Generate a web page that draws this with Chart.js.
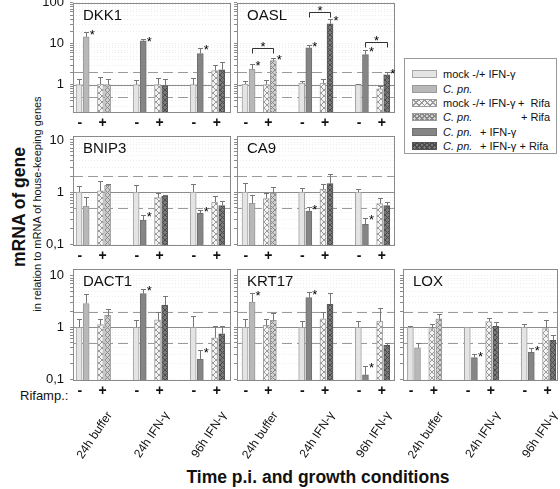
<!DOCTYPE html>
<html><head><meta charset="utf-8">
<script src="https://cdn.jsdelivr.net/npm/chart.js@4.4.1/dist/chart.umd.min.js"></script>
<style>
html,body{margin:0;padding:0;background:#fff;}
#wrap{position:relative;width:560px;height:489px;overflow:hidden;font-family:"Liberation Sans",Arial,sans-serif;color:#111;}
canvas.panel{position:absolute;left:0;top:0;}
.txt{position:absolute;white-space:nowrap;line-height:1;}
#legend{position:absolute;left:404px;top:58px;width:151px;height:94px;border:1px solid #9a9a9a;background:#fff;}
.lrow{position:absolute;left:0;width:151px;height:14px;font-size:11px;line-height:14px;}
.sw{position:absolute;left:7px;top:3px;width:23px;height:6px;border:1px solid #9a9a9a;}
.lt{position:absolute;top:0;white-space:nowrap;}
</style></head><body>
<div id="wrap">
  <div class="txt" style="left:20px;top:207px;font-weight:bold;font-size:17.5px;transform:translate(-50%,-50%) rotate(-90deg);">mRNA of gene</div>
  <div class="txt" style="left:37px;top:204px;font-size:11px;transform:translate(-50%,-50%) rotate(-90deg);">in relation to mRNA of house-keeping genes</div>
  <div class="txt" style="left:20px;top:389px;font-size:13px;">Rifamp.:</div>
  <div class="txt" style="left:318px;top:478px;font-weight:bold;font-size:17.5px;transform:translate(-50%,-50%);">Time p.i. and growth conditions</div>
  <div id="legend">
    <div class="lrow" style="top:8px"><div class="sw" style="background:#e4e4e4;border-color:#a8a8a8"></div><span class="lt" style="left:38px">mock -/+ IFN-γ</span></div>
    <div class="lrow" style="top:22.5px"><div class="sw" style="background:#b8b8b8"></div><span class="lt" style="left:38px"><i>C. pn.</i></span></div>
    <div class="lrow" style="top:37px"><div class="sw" style="background-color:#f4f4f4;background-image:repeating-linear-gradient(45deg,#999 0 1px,transparent 1px 4px),repeating-linear-gradient(-45deg,#999 0 1px,transparent 1px 4px)"></div><span class="lt" style="left:38px">mock -/+ IFN-γ</span><span class="lt" style="left:113px">+&nbsp; Rifa</span></div>
    <div class="lrow" style="top:51px"><div class="sw" style="background-color:#d0d0d0;background-image:repeating-linear-gradient(45deg,#888 0 1px,transparent 1px 3.5px),repeating-linear-gradient(-45deg,#888 0 1px,transparent 1px 3.5px)"></div><span class="lt" style="left:38px"><i>C. pn.</i></span><span class="lt" style="left:116px">+ Rifa</span></div>
    <div class="lrow" style="top:65.5px"><div class="sw" style="background:#858585;border-color:#707070"></div><span class="lt" style="left:38px"><i>C. pn.</i></span><span class="lt" style="left:75px">+ IFN-γ</span></div>
    <div class="lrow" style="top:80px"><div class="sw" style="background-color:#7a7a7a;border-color:#555;background-image:repeating-linear-gradient(45deg,#4a4a4a 0 1px,transparent 1px 3.5px),repeating-linear-gradient(-45deg,#4a4a4a 0 1px,transparent 1px 3.5px)"></div><span class="lt" style="left:38px"><i>C. pn.</i></span><span class="lt" style="left:75px">+ IFN-γ + Rifa</span></div>
  </div>
</div>
<script>
// ---------- DATA ----------
const genes = ['DKK1', 'OASL', 'BNIP3', 'CA9', 'DACT1', 'KRT17', 'LOX'];
const timePoints = ['24h buffer', '24h IFN-γ', '96h IFN-γ'];
const rifampLabels = ['-', '+'];
const seriesLabels = ['mock -/+ IFN-γ', 'C. pn.', 'mock -/+ IFN-γ + Rifa', 'C. pn. + Rifa', 'C. pn. + IFN-γ', 'C. pn. + IFN-γ + Rifa'];
const yTickLabels = [[0.1, '0,1'], [1, '1'], [10, '10'], [100, '100']];

// rows = genes (order of `genes`), columns = time points
const mockValues = [
  [1.0, 1.0, 1.0], [1.04, 1.1, 1.0], [1.0, 1.0, 1.0], [1.0, 1.0, 1.0],
  [1.0, 1.0, 1.0], [1.0, 1.0, 1.0], [1.0, 1.0, 1.0]
];
const mockErrors = [
  [1.38, 1.32, 1.45], [1.25, 1.25, 1.03], [1.29, 1.37, 1.45], [1.52, 1.2, 1.16],
  [1.47, 1.4, 1.63], [1.47, 1.33, 1.3], [1.05, 1.0, 1.18]
];
// C. pn. (24h buffer) / C. pn. + IFN-γ (24h, 96h IFN-γ)
const infectedValues = [
  [14.6, 11.8, 5.7], [2.4, 7.9, 5.4], [0.54, 0.29, 0.39], [0.61, 0.43, 0.24],
  [2.9, 4.5, 0.24], [3.1, 3.75, 0.12], [0.4, 0.26, 0.33]
];
const infectedErrors = [
  [19.2, 13.0, 7.9], [3.2, 9.4, 7.1], [0.8, 0.37, 0.46], [0.86, 0.51, 0.32],
  [4.5, 5.6, 0.36], [4.6, 4.8, 0.18], [0.5, 0.3, 0.39]
];
const mockRifaValues = [
  [1.04, 1.0, 2.2], [1.0, 1.1, 0.79], [1.05, 0.78, 0.64], [0.75, 1.13, 0.6],
  [1.13, 1.4, 0.63], [1.1, 1.47, 1.32], [0.95, 1.3, 0.95]
];
const mockRifaErrors = [
  [1.54, 1.46, 3.0], [1.32, 1.4, 0.95], [1.6, 0.96, 0.83], [0.96, 1.4, 0.78],
  [1.47, 2.0, 1.05], [1.43, 2.0, 2.4], [1.18, 1.54, 1.41]
];
const infectedRifaValues = [
  [1.0, 0.95, 2.3], [3.85, 30.7, 1.75], [1.35, 0.84, 0.55], [0.95, 1.45, 0.55],
  [1.7, 2.7, 0.75], [1.37, 2.8, 0.45], [1.47, 1.05, 0.56]
];
const infectedRifaErrors = [
  [1.38, 1.38, 3.5], [4.6, 40.7, 2.04], [1.45, 0.87, 0.67], [1.25, 2.2, 0.65],
  [2.3, 4.0, 1.05], [1.9, 4.6, 0.5], [1.85, 1.27, 0.72]
];
// significance marks: [time point, bar (0 mock, 1 infected, 2 mock+Rifa, 3 infected+Rifa)]
const significant = [
  [[0,1],[1,1],[2,1]],
  [[0,1],[0,3],[1,1],[1,3],[2,1],[2,3]],
  [[1,1],[2,1]],
  [[1,1],[2,1]],
  [[1,1],[2,1]],
  [[0,1],[1,1],[2,1]],
  [[1,1],[2,1]]
];
const oaslBracketLevels = [7.9, 59, 10.8];

// ---------- LAYOUT ----------
const FONT = '"Liberation Sans", Arial, sans-serif';
const W = 560, H = 489, WY = 34, HX = 24;
const SLOTS = [0, 1, 3, 4], GROUP = 8;
const COLS = [
  {L: 73, R: 231, xmin: -0.85, xmax: 21.3},
  {L: 237, R: 395, xmin: -1.13, xmax: 21.17},
  {L: 403, R: 558, xmin: -1.04, xmax: 20.75}
];
const ROWS = [
  {T: 2.7, B: 112.7, min: 0.207, max: 100},
  {T: 136, B: 246, min: 0.092, max: 11.9},
  {T: 269, B: 381, min: 0.0915, max: 13.48}
];
const PANELS = [
  {gene: 0, row: 0, col: 0}, {gene: 1, row: 0, col: 1},
  {gene: 2, row: 1, col: 0}, {gene: 3, row: 1, col: 1},
  {gene: 4, row: 2, col: 0}, {gene: 5, row: 2, col: 1}, {gene: 6, row: 2, col: 2}
];

function hatch(bg, fg, size) {
  const c = document.createElement('canvas');
  c.width = c.height = size;
  const x = c.getContext('2d');
  x.fillStyle = bg; x.fillRect(0, 0, size, size);
  x.strokeStyle = fg; x.lineWidth = 1;
  x.beginPath(); x.moveTo(0, 0); x.lineTo(size, size); x.moveTo(size, 0); x.lineTo(0, size); x.stroke();
  return x.createPattern(c, 'repeat');
}
const STYLES = [
  {backgroundColor: '#e4e4e4', borderColor: '#a0a0a0'},
  {backgroundColor: '#b8b8b8', borderColor: '#9a9a9a'},
  {backgroundColor: hatch('#f4f4f4', '#9a9a9a', 6), borderColor: '#a0a0a0'},
  {backgroundColor: hatch('#d0d0d0', '#8a8a8a', 5), borderColor: '#999'},
  {backgroundColor: '#858585', borderColor: '#707070'},
  {backgroundColor: hatch('#7a7a7a', '#4a4a4a', 5), borderColor: '#555'}
];

const VALS = [mockValues, infectedValues, mockRifaValues, infectedRifaValues];
const ERRS = [mockErrors, infectedErrors, mockRifaErrors, infectedRifaErrors];

function pt(g, k, v) { return {x: g * GROUP + SLOTS[k], y: v}; }
function buildDatasets(gi) {
  const d = [
    [0, 1, 2].map(g => pt(g, 0, mockValues[gi][g])),
    [pt(0, 1, infectedValues[gi][0])],
    [0, 1, 2].map(g => pt(g, 2, mockRifaValues[gi][g])),
    [pt(0, 3, infectedRifaValues[gi][0])],
    [1, 2].map(g => pt(g, 1, infectedValues[gi][g])),
    [1, 2].map(g => pt(g, 3, infectedRifaValues[gi][g]))
  ];
  return d.map((data, i) => Object.assign({label: seriesLabels[i], data}, STYLES[i]));
}

function logTicks(min, max) {
  const t = [];
  for (let e = -2; e <= 2; e++) for (let m = 1; m <= 9; m++) {
    const v = +(m * Math.pow(10, e)).toPrecision(3);
    if (v >= min - 1e-9 && v <= max + 1e-9) t.push({value: v, major: m === 1});
  }
  return t;
}
function yLabel(v) {
  const f = yTickLabels.find(p => Math.abs(p[0] - v) < 1e-9);
  return f ? f[1] : '';
}
function zeroPad(s) { s.paddingLeft = s.paddingRight = s.paddingTop = s.paddingBottom = 0; }

const panelDeco = {
  id: 'panelDeco',
  beforeDatasetsDraw(chart) {
    const {ctx, chartArea: a} = chart; const y = chart.scales.y;
    ctx.save();
    [[1, [], '#8c8c8c'], [2, [10, 5], '#9a9a9a'], [0.5, [10, 5], '#9a9a9a']].forEach(([v, dash, col]) => {
      const py = Math.round(y.getPixelForValue(v)) + 0.5;
      ctx.strokeStyle = col; ctx.lineWidth = 1; ctx.setLineDash(dash);
      ctx.beginPath(); ctx.moveTo(a.left, py); ctx.lineTo(a.right, py); ctx.stroke();
    });
    ctx.restore();
  },
  afterDatasetsDraw(chart, args, o) {
    const gi = o.gene;
    const {ctx, chartArea: a} = chart; const x = chart.scales.x, y = chart.scales.y;
    ctx.save();
    ctx.setLineDash([]);
    // frame
    ctx.strokeStyle = '#8a8a8a'; ctx.lineWidth = 1;
    const l = Math.round(a.left) + 0.5, t = Math.round(a.top) + 0.5, r = Math.round(a.right) - 0.5, b = Math.round(a.bottom) - 0.5;
    ctx.strokeRect(l, t, r - l, b - t);
    // error bars
    ctx.strokeStyle = '#777';
    for (let g = 0; g < 3; g++) for (let k = 0; k < 4; k++) {
      const v = VALS[k][gi][g], e = ERRS[k][gi][g];
      if (e <= v) continue;
      const px = Math.round(x.getPixelForValue(g * GROUP + SLOTS[k])) + 0.5;
      const py0 = y.getPixelForValue(v), py1 = Math.round(y.getPixelForValue(e)) + 0.5;
      ctx.beginPath(); ctx.moveTo(px, py0); ctx.lineTo(px, py1);
      ctx.moveTo(px - 2.5, py1); ctx.lineTo(px + 2.5, py1); ctx.stroke();
    }
    // asterisks
    ctx.fillStyle = '#000'; ctx.font = '13px ' + FONT; ctx.textAlign = 'center'; ctx.textBaseline = 'alphabetic';
    significant[gi].forEach(([g, k]) => {
      const px = x.getPixelForValue(g * GROUP + SLOTS[k]) + 6;
      const py = y.getPixelForValue(Math.max(ERRS[k][gi][g], VALS[k][gi][g]));
      ctx.fillText('*', px, py + 6.5);
    });
    // brackets (OASL)
    if (genes[gi] === 'OASL') {
      ctx.strokeStyle = '#333';
      oaslBracketLevels.forEach((lev, g) => {
        const x1 = Math.round(x.getPixelForValue(g * GROUP + SLOTS[1])) + 0.5;
        const x2 = Math.round(x.getPixelForValue(g * GROUP + SLOTS[3])) + 0.5;
        const yb = Math.round(y.getPixelForValue(lev)) + 0.5;
        ctx.beginPath(); ctx.moveTo(x1, yb + 5); ctx.lineTo(x1, yb); ctx.lineTo(x2, yb); ctx.lineTo(x2, yb + 5); ctx.stroke();
        ctx.fillText('*', (x1 + x2) / 2, yb + 2.5);
      });
    }
    // panel title
    ctx.font = '15px ' + FONT; ctx.textAlign = 'left'; ctx.textBaseline = 'middle'; ctx.fillStyle = '#111';
    ctx.fillText(genes[gi], a.left + 10, a.top + 13);
    // rotated time labels under bottom row
    if (o.timeLabels) {
      ctx.font = '12px ' + FONT; ctx.textAlign = 'right'; ctx.textBaseline = 'middle';
      timePoints.forEach((lab, g) => {
        ctx.save();
        ctx.translate(x.getPixelForValue(g * GROUP + 4.3), a.bottom + 32);
        ctx.rotate(-56 * Math.PI / 180);
        ctx.fillText(lab, 0, 0);
        ctx.restore();
      });
    }
    ctx.restore();
  }
};

const wrap = document.getElementById('wrap');
PANELS.forEach(p => {
  const R = ROWS[p.row], C = COLS[p.col];
  const canvas = document.createElement('canvas');
  canvas.width = W; canvas.height = H; canvas.className = 'panel';
  wrap.appendChild(canvas);
  new Chart(canvas, {
    type: 'bar',
    data: {datasets: buildDatasets(p.gene)},
    options: {
      responsive: false, animation: false, events: [], devicePixelRatio: 1,
      layout: {autoPadding: false, padding: {left: C.L - WY, right: W - C.R, top: R.T, bottom: H - R.B - HX}},
      datasets: {bar: {grouped: false, barThickness: 6, borderWidth: 1}},
      plugins: {legend: {display: false}, tooltip: {enabled: false}, title: {display: false},
        panelDeco: {gene: p.gene, timeLabels: p.row === 2}},
      scales: {
        x: {
          type: 'linear', min: C.xmin, max: C.xmax, offset: false, bounds: 'data',
          grid: {display: false, drawTicks: false}, border: {display: false},
          afterBuildTicks: s => { s.ticks = [0, 1, 2].flatMap(g => [{value: g * GROUP + 0.1}, {value: g * GROUP + 3.3}]); },
          afterFit: s => { s.height = HX; zeroPad(s); },
          ticks: {autoSkip: false, maxRotation: 0, minRotation: 0, padding: 2, color: '#111',
            font: {family: FONT, size: 14, weight: 'bold'}, callback: (v, i) => rifampLabels[i % 2]}
        },
        y: {
          type: 'logarithmic', min: R.min, max: R.max, bounds: 'data',
          afterBuildTicks: s => { s.ticks = logTicks(R.min, R.max); },
          afterFit: s => { s.width = WY; zeroPad(s); },
          grid: {color: 'rgba(0,0,0,0.07)', lineWidth: 1, drawTicks: true, tickLength: 3, tickColor: '#8c8c8c'},
          border: {display: false, dash: [1, 2]},
          ticks: {display: p.col === 0, autoSkip: false, padding: 6, color: '#111',
            font: {family: FONT, size: 13}, callback: v => yLabel(v)}
        }
      }
    },
    plugins: [panelDeco]
  });
});
</script>
</body></html>
